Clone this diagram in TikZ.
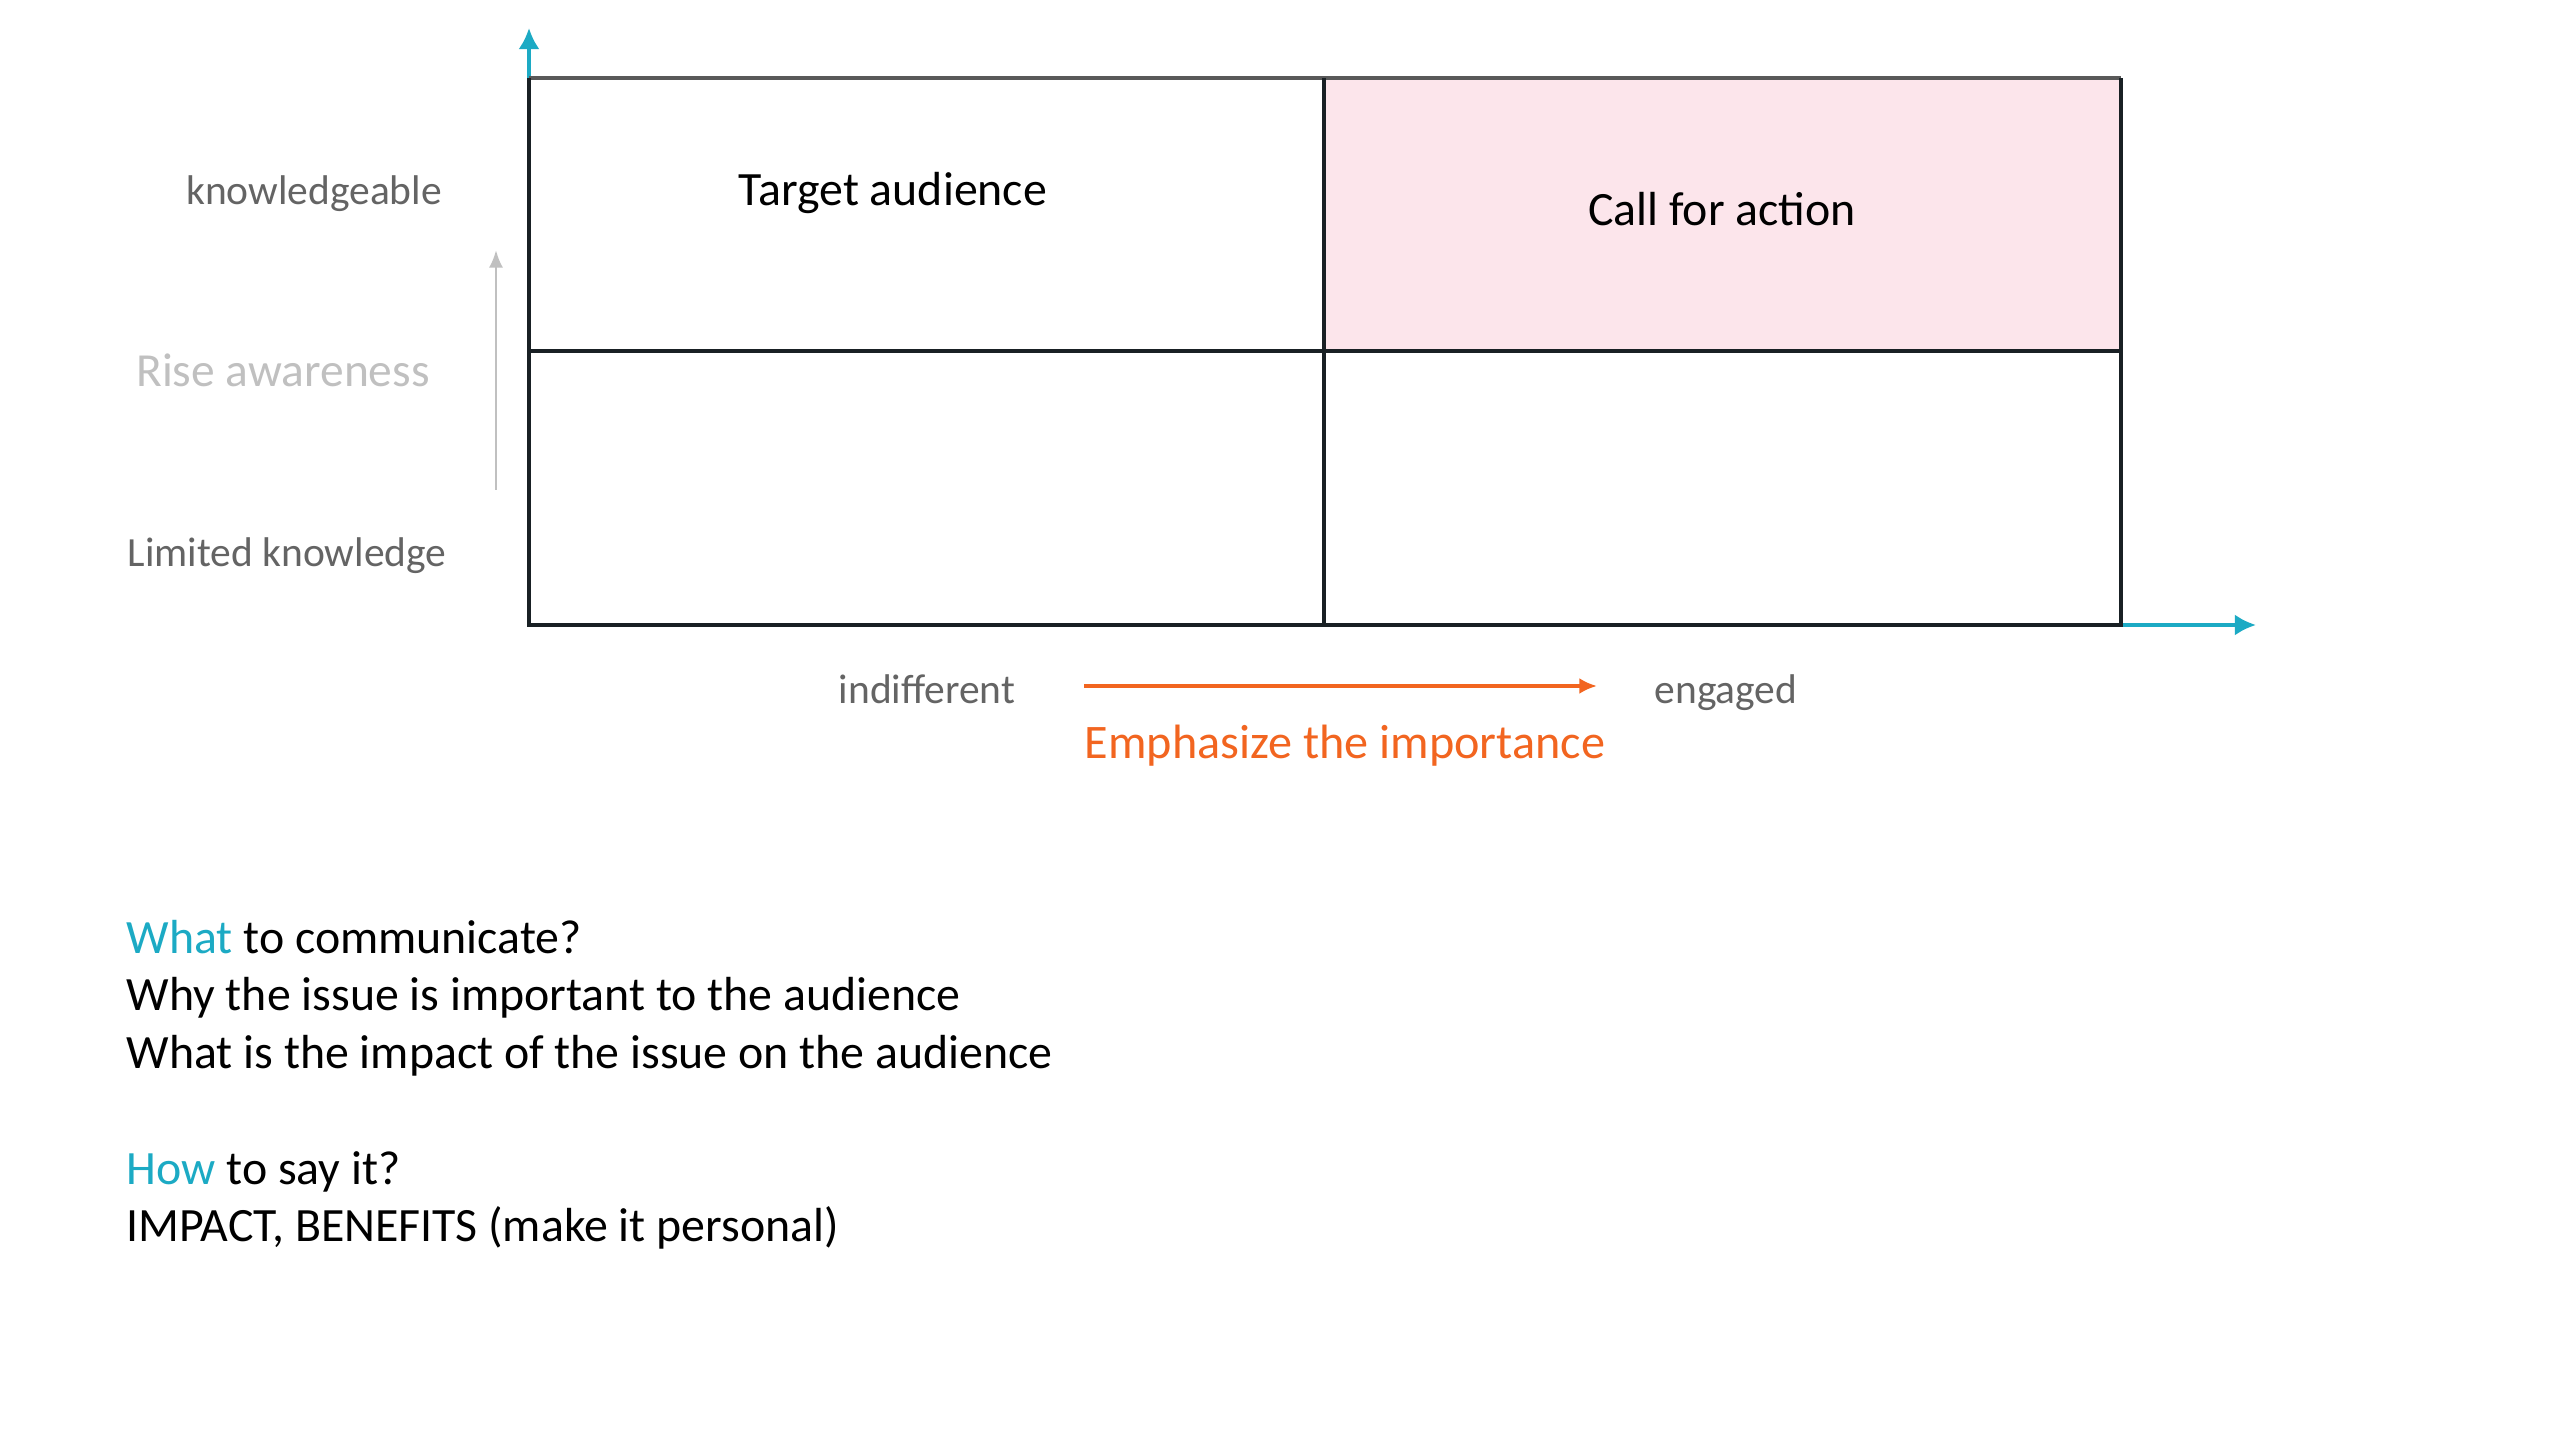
\documentclass[tikz,border=0pt]{standalone}
\usepackage{fontspec}
\setmainfont{Carlito}
\usetikzlibrary{arrows.meta}
\definecolor{axiscyan}{RGB}{28,170,196}
\definecolor{cellpink}{RGB}{252,229,235}
\definecolor{orangeacc}{RGB}{242,101,32}
\definecolor{labgrey}{RGB}{100,100,100}
\definecolor{lightgrey}{RGB}{192,192,192}
\definecolor{boxline}{RGB}{25,32,36}
\tikzset{
  axis/.style={axiscyan, line width=1.1pt, -{Latex[length=6pt,width=6pt]}},
  cellline/.style={boxline, line width=1.2pt},
  celltext/.style={font=\fontsize{13.6}{16}\selectfont, text=black, anchor=base, inner sep=0pt},
  axlabel/.style={font=\fontsize{11.8}{14}\selectfont, text=labgrey, anchor=base, inner sep=0pt},
  bodytext/.style={font=\fontsize{13.6}{16}\selectfont, text=black, anchor=base west, inner sep=0pt},
}
\begin{document}
\begin{tikzpicture}[x=0.01cm, y=-0.01cm]
\useasboundingbox (0,0) rectangle (2560,1440);
\fill[white] (0,0) rectangle (2560,1440);
% grid coordinates
\coordinate (tl) at (529,78);
\coordinate (tm) at (1324,78);
\coordinate (tr) at (2121,78);
\coordinate (ml) at (529,351);
\coordinate (mm) at (1324,351);
\coordinate (mr) at (2121,351);
\coordinate (bl) at (529,625);
\coordinate (bm) at (1324,625);
\coordinate (br) at (2121,625);
\coordinate (ytip) at (529,28);
\coordinate (xtip) at (2256,625);
% pink cell
\fill[cellpink] (tm) rectangle (mr);
% axes
\draw[axis] (bl) -- (ytip);
\draw[axis] (br) -- (xtip);
% grid
\draw[cellline, draw=gray!70!black] (tl) -- (tr);
\draw[cellline] (tl) -- (bl) -- (br) -- (tr);
\draw[cellline] (ml) -- (mr);
\draw[cellline] (tm) -- (bm);
% cell texts
\node[celltext] (target) at (893,206) {Target audience};
\node[celltext] (call) at (1722,226) {Call for action};
% y labels
\node[axlabel] (know) at (314,205) {knowledgeable};
\node[font=\fontsize{13.5}{16}\selectfont, text=lightgrey, anchor=base, inner sep=0pt] (rise) at (283,387) {Rise awareness};
\node[axlabel] (limited) at (287,567) {Limited knowledge};
\coordinate (gbot) at (496,490);
\coordinate (gtop) at (496,250);
\draw[lightgrey, line width=0.8pt, -{Latex[length=5pt,width=4pt]}] (gbot) -- (gtop);
% x labels
\node[axlabel] (indiff) at (927,704) {indifferent};
\node[axlabel] (engaged) at (1726,704) {engaged};
\coordinate (ostart) at (1084,686);
\coordinate (oend) at (1597,686);
\draw[orangeacc, line width=1pt, -{Latex[length=5pt,width=4.5pt]}] (ostart) -- (oend);
\node[font=\fontsize{13.7}{16}\selectfont, text=orangeacc, anchor=base, inner sep=0pt] (emph) at (1345,759) {Emphasize the importance};
% bottom text
\node[bodytext] (l1) at (126,953) {\textcolor{axiscyan}{What} to communicate?};
\node[bodytext] (l2) at (126,1011) {Why the issue is important to the audience};
\node[bodytext] (l3) at (126,1068) {What is the impact of the issue on the audience};
\node[bodytext] (l4) at (126,1184) {\textcolor{axiscyan}{How} to say it?};
\node[bodytext] (l5) at (126,1241) {IMPACT, BENEFITS (make it personal)};
\end{tikzpicture}
\end{document}
